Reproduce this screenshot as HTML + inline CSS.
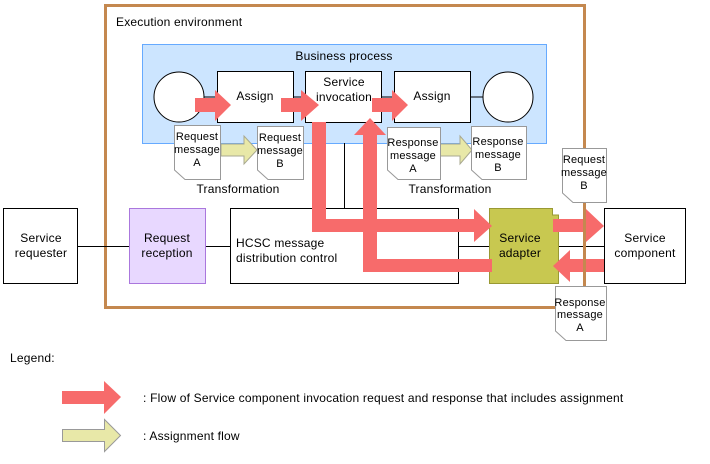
<!DOCTYPE html>
<html><head><style>
html,body{margin:0;padding:0;background:#fff;}
svg{display:block;}
text{font-family:"Liberation Sans",Arial,sans-serif;font-size:12px;fill:#000;letter-spacing:0.2px;}
</style></head><body>
<svg width="710" height="464" viewBox="0 0 710 464" xmlns="http://www.w3.org/2000/svg">
<rect x="105.5" y="5.5" width="479" height="302" fill="none" stroke="#C4884F" stroke-width="3"/>
<text x="116" y="26">Execution environment</text>
<rect x="142.5" y="44.5" width="404" height="99" fill="#CCE5FF" stroke="#66AAFF"/>
<text x="344" y="60" text-anchor="middle">Business process</text>
<line x1="204" y1="97" x2="508" y2="97" stroke="#000"/>
<circle cx="179" cy="97" r="25" fill="#fff" stroke="#000"/>
<circle cx="508" cy="97" r="25" fill="#fff" stroke="#000"/>
<rect x="217.5" y="71.5" width="76" height="51" fill="#fff" stroke="#000"/>
<text x="255" y="100" text-anchor="middle">Assign</text>
<rect x="305.5" y="71.5" width="76" height="51" fill="#fff" stroke="#000"/>
<text x="344" y="86" text-anchor="middle">Service</text>
<text x="344" y="101" text-anchor="middle">invocation</text>
<rect x="394.5" y="71.5" width="76" height="51" fill="#fff" stroke="#000"/>
<text x="432" y="100" text-anchor="middle">Assign</text>
<line x1="344.5" y1="143" x2="344.5" y2="208" stroke="#000"/>
<g fill="#F76B6B">
<polygon points="195,98 215,98 215,90 231,105 215,121 215,112 195,112"/>
<polygon points="281,98 301,98 301,90 319,105 301,121 301,112 281,112"/>
<polygon points="372,98 392,98 392,90 408,105 392,121 392,112 372,112"/>
</g>
<g fill="#E8E8A8" stroke="#A8A890">
<polygon points="221,144 244,144 244,136 257,150 244,164 244,156 221,156"/>
<polygon points="440,144 460,144 460,136 472,150 460,164 460,156 440,156"/>
</g>
<!-- connectors -->
<line x1="77" y1="246.5" x2="129" y2="246.5" stroke="#000"/>
<line x1="205" y1="246.5" x2="230" y2="246.5" stroke="#000"/>
<line x1="458" y1="246.5" x2="489" y2="246.5" stroke="#000"/>
<line x1="558" y1="246.5" x2="604" y2="246.5" stroke="#000"/>
<rect x="3.5" y="208.5" width="74" height="75" fill="#fff" stroke="#000"/>
<text x="41" y="242" text-anchor="middle">Service</text>
<text x="41" y="257" text-anchor="middle">requester</text>
<rect x="129.5" y="208.5" width="76" height="75" fill="#E8D8FF" stroke="#AA77DD"/>
<text x="167" y="242" text-anchor="middle">Request</text>
<text x="167" y="257" text-anchor="middle">reception</text>
<rect x="230.5" y="208.5" width="228" height="75" fill="#fff" stroke="#000"/>
<text x="236" y="247">HCSC message</text>
<text x="236" y="262">distribution control</text>
<rect x="604.5" y="208.5" width="81" height="75" fill="#fff" stroke="#000"/>
<text x="645" y="242" text-anchor="middle">Service</text>
<text x="645" y="257" text-anchor="middle">component</text>
<path d="M489.5,208.5 H552.5 V215 H558.5 V283.5 H489.5 Z" fill="#C8C850" stroke="#999933"/>
<text x="520" y="242" text-anchor="middle">Service</text>
<text x="520" y="257" text-anchor="middle">adapter</text>
<g fill="#F76B6B">
<polygon points="312,122 326,122 326,219 474,219 474,209 492,226 474,242 474,232 312,232"/>
<polygon points="553,219 586,219 586,209 604,226 586,242 586,232 553,232"/>
<polygon points="604,259 570,259 570,250 553,266 570,282 570,272 604,272"/>
<polygon points="492,259 377,259 377,135 386,135 370,118 354,135 363,135 363,272 492,272"/>
</g>
<!-- brown line over arrows -->
<line x1="584.5" y1="200" x2="584.5" y2="290" stroke="#C4884F" stroke-width="3"/>
<!-- documents -->
<g fill="#fff" stroke="#999">
<path d="M174.5,125.5 H220.5 V179.5 H185 L174.5,170 Z"/>
<path d="M257.5,126.5 H303.5 V179.5 H268 L257.5,170 Z"/>
<path d="M387.5,127.5 H440.5 V179.5 H398 L387.5,170 Z"/>
<path d="M471.5,126.5 H526.5 V179.5 H482 L471.5,170 Z"/>
<path d="M562.5,148.5 H606.5 V202.5 H573 L562.5,193 Z"/>
<path d="M555.5,286.5 H606.5 V340.5 H566 L555.5,331 Z"/>
</g>
<text x="197" y="140" text-anchor="middle" style="font-size:11px">Request</text>
<text x="197" y="153" text-anchor="middle" style="font-size:11px">message</text>
<text x="197" y="166" text-anchor="middle" style="font-size:11px">A</text>
<text x="280" y="141" text-anchor="middle" style="font-size:11px">Request</text>
<text x="280" y="154" text-anchor="middle" style="font-size:11px">message</text>
<text x="280" y="167" text-anchor="middle" style="font-size:11px">B</text>
<text x="413" y="146" text-anchor="middle" style="font-size:11px">Response</text>
<text x="413" y="159" text-anchor="middle" style="font-size:11px">message</text>
<text x="413" y="172" text-anchor="middle" style="font-size:11px">A</text>
<text x="498" y="145" text-anchor="middle" style="font-size:11px">Response</text>
<text x="498" y="158" text-anchor="middle" style="font-size:11px">message</text>
<text x="498" y="171" text-anchor="middle" style="font-size:11px">B</text>
<text x="584" y="163" text-anchor="middle" style="font-size:11px">Request</text>
<text x="584" y="176" text-anchor="middle" style="font-size:11px">message</text>
<text x="584" y="189" text-anchor="middle" style="font-size:11px">B</text>
<text x="580" y="306" text-anchor="middle" style="font-size:11px">Response</text>
<text x="580" y="318" text-anchor="middle" style="font-size:11px">message</text>
<text x="580" y="331" text-anchor="middle" style="font-size:11px">A</text>
<text x="238" y="193" text-anchor="middle">Transformation</text>
<text x="450" y="193" text-anchor="middle">Transformation</text>
<text x="10" y="362">Legend:</text>
<polygon points="62,391 104,391 104,381 121,397 104,414 104,404 62,404" fill="#F76B6B"/>
<text x="143" y="402">: Flow of Service component invocation request and response that includes assignment</text>
<polygon points="62.5,429.5 104.5,429.5 104.5,419.5 120.5,435.5 104.5,451.5 104.5,441.5 62.5,441.5" fill="#E8E8A8" stroke="#999"/>
<text x="143" y="440">: Assignment flow</text>
</svg>
</body></html>
